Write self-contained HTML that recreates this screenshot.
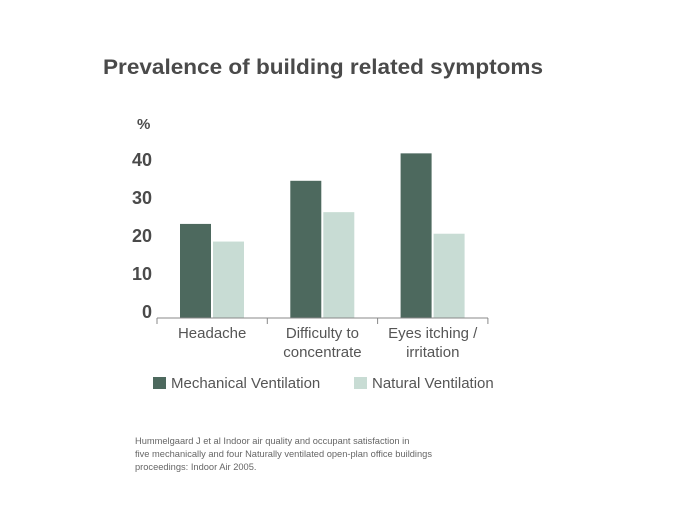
<!DOCTYPE html>
<html><head><meta charset="utf-8"><style>
body{margin:0;background:#fff;}
svg{display:block;font-family:"Liberation Sans",sans-serif;}
</style></head><body>
<svg id="chart" width="680" height="510" viewBox="0 0 680 510">
<text x="103" y="74" font-size="21" font-weight="bold" fill="#4a4a4a" textLength="440" lengthAdjust="spacingAndGlyphs">Prevalence of building related symptoms</text>
<text x="137" y="129" font-size="15" font-weight="bold" fill="#4a4a4a">%</text>
<g id="yticks"></g>
<g id="bars"></g>
<line x1="157" y1="318" x2="488" y2="318" stroke="#888" stroke-width="1"/>
<g id="xticks"></g>
<g>
<g>
<rect x="153" y="377" width="13" height="12" fill="#4d695e"/>
<text x="171" y="388" font-size="15" fill="#555">Mechanical Ventilation</text></g>
<g>
<rect x="354" y="377" width="13" height="12" fill="#c8dcd4"/>
<text x="372" y="388" font-size="15" fill="#555">Natural Ventilation</text></g>
</g>
<g font-size="9.3" fill="#666">
<text x="135" y="444">Hummelgaard J et al Indoor air quality and occupant satisfaction in</text>
<text x="135" y="457">five mechanically and four Naturally ventilated open-plan office buildings</text>
<text x="135" y="470">proceedings: Indoor Air 2005.</text>
</g>
</svg>
<script>
const categories=[["Headache"],["Difficulty to","concentrate"],["Eyes itching /","irritation"]];
const mechanical=[24,35,42];
const natural=[19.5,27,21.5];
const yTicks=[0,10,20,30,40];
const yTickLabels=["0","10","20","30","40"];

const NS="http://www.w3.org/2000/svg";
const y0=318, pxPer=3.92;
function y(v){return y0-v*pxPer;}
function yLabel(v){return 318-v*3.8;}
const left=157, groupW=110.3;
function gx(i){return left+i*groupW;}
function mk(tag,attrs,parent){const e=document.createElementNS(NS,tag);for(const k in attrs)e.setAttribute(k,attrs[k]);parent.appendChild(e);return e;}
const yt=document.getElementById('yticks');
yTicks.forEach((t,i)=>{
 const e=mk('text',{x:152,y:yLabel(t)+0,'font-size':18,'font-weight':'bold',fill:'#4a4a4a','text-anchor':'end'},yt);
 
 
 e.textContent=yTickLabels[i];
});
const bars=document.getElementById('bars');
categories.forEach((c,i)=>{
 const x0=gx(i)+23;
 const r1=mk('rect',{x:x0,y:y(mechanical[i]),width:31,height:y0-y(mechanical[i]),fill:'#4d695e'},bars);
 
 
 const r2=mk('rect',{x:x0+33,y:y(natural[i]),width:31,height:y0-y(natural[i]),fill:'#c8dcd4'},bars);
 
 
});
const xt=document.getElementById('xticks');
for(let i=0;i<=categories.length;i++){
 const l=mk('line',{x1:gx(i),y1:318,x2:gx(i),y2:324,stroke:'#888'},xt);
 
 
}
categories.forEach((c,i)=>{
 c.forEach((line,j)=>{
  const e=mk('text',{x:gx(i)+groupW/2,y:338+j*19,'font-size':15,fill:'#555','text-anchor':'middle'},xt);
  
  
  e.textContent=line;
 });
});
</script>
</body></html>
